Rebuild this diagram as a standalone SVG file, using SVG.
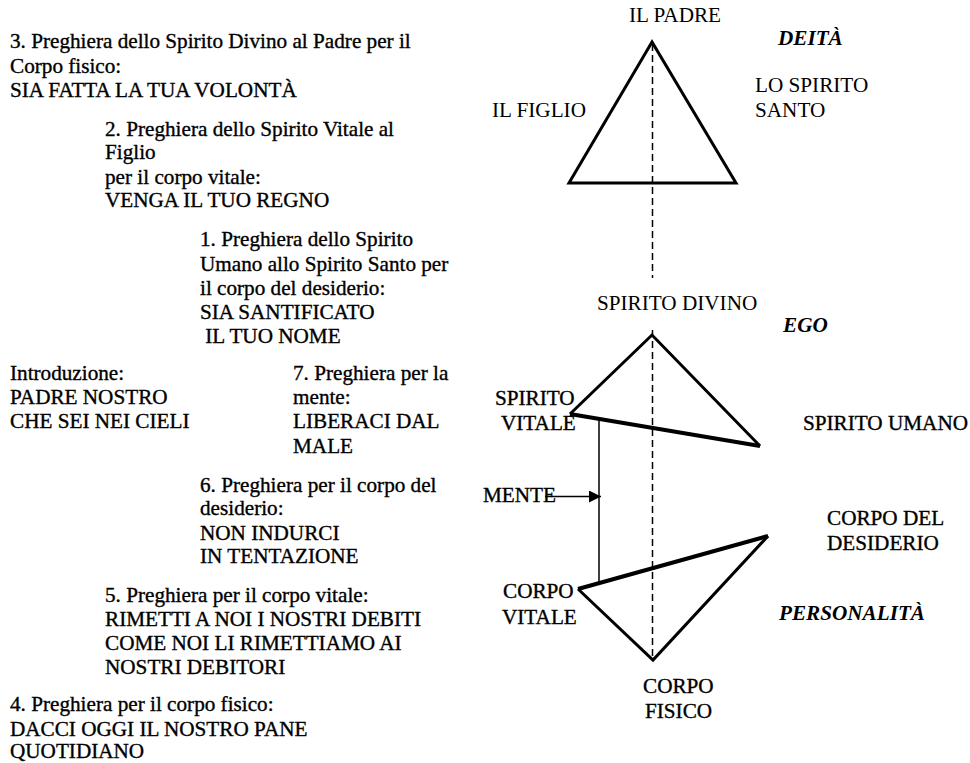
<svg xmlns="http://www.w3.org/2000/svg" width="970" height="763" viewBox="0 0 970 763" font-family="'Liberation Serif', 'Times New Roman', 'DejaVu Serif', serif" font-size="21.2">
<defs>
<style>
text{font-family:'Liberation Serif','Times New Roman','DejaVu Serif',serif;font-size:21.2px;fill:#000}
.h{stroke:#000;stroke-width:0.35}
.bi{font-weight:bold;font-style:italic}
.tri{fill:none;stroke:#000;stroke-width:3;stroke-linejoin:miter}
.edge{fill:none;stroke:#000;stroke-width:4}
.dash{stroke:#000;stroke-width:1.5;stroke-dasharray:7 4;fill:none}
.thin{stroke:#000;stroke-width:1.5;fill:none}
</style>
<marker id="arr" viewBox="0 0 12 12" refX="12" refY="6" markerWidth="12" markerHeight="12" markerUnits="userSpaceOnUse" orient="auto">
<path d="M0,0 L12,6 L0,12 Z" fill="#000"/>
</marker>
</defs>
<rect width="970" height="763" fill="#fff"/>

<g id="connectors">
<line class="dash" x1="652.5" y1="44" x2="652.5" y2="278"/>
<line class="dash" x1="652.5" y1="330" x2="652.5" y2="660"/>
<line class="thin" x1="599" y1="420" x2="599" y2="584"/>
<line class="thin" x1="545" y1="496.5" x2="601" y2="496.5" marker-end="url(#arr)"/>
</g>

<g id="deita">
<polygon class="tri" points="652,42 569,183 736,183"/>
</g>
<g id="ego">
<path class="tri" d="M570,414 L652,335 L760,446"/>
<line class="edge" x1="570" y1="414" x2="760" y2="446"/>
</g>
<g id="personalita">
<path class="tri" d="M578,589 L653,660 L768,536"/>
<line class="edge" x1="578" y1="589" x2="768" y2="536"/>
</g>

<g id="labels-right">
<text x="629" y="22">IL PADRE</text>
<text class="bi" x="778" y="45">DEITÀ</text>
<text x="492" y="117">IL FIGLIO</text>
<text x="755" y="92">LO SPIRITO</text>
<text x="755" y="117">SANTO</text>
<text x="597" y="310">SPIRITO DIVINO</text>
<text class="bi" x="783" y="332">EGO</text>
<text class="h" x="495" y="405">SPIRITO</text>
<text class="h" x="501" y="430">VITALE</text>
<text class="h" x="803" y="430">SPIRITO UMANO</text>
<text class="h" x="483" y="502">MENTE</text>
<text class="h" x="827" y="525">CORPO DEL</text>
<text class="h" x="827" y="550">DESIDERIO</text>
<text class="h" x="503" y="598">CORPO</text>
<text class="h" x="502" y="624">VITALE</text>
<text class="bi" x="779" y="620">PERSONALITÀ</text>
<text class="h" x="643" y="693">CORPO</text>
<text class="h" x="645" y="718">FISICO</text>
</g>

<g id="p3" class="h">
<text x="10" y="48">3. Preghiera dello Spirito Divino al Padre per il</text>
<text x="10" y="73">Corpo fisico:</text>
<text x="10" y="97">SIA FATTA LA TUA VOLONTÀ</text>
</g>
<g id="p2" class="h">
<text x="105" y="136">2. Preghiera dello Spirito Vitale al</text>
<text x="105" y="159">Figlio</text>
<text x="105" y="184">per il corpo vitale:</text>
<text x="105" y="207">VENGA IL TUO REGNO</text>
</g>
<g id="p1" class="h">
<text x="200" y="246">1. Preghiera dello Spirito</text>
<text x="200" y="271">Umano allo Spirito Santo per</text>
<text x="200" y="295">il corpo del desiderio:</text>
<text x="200" y="319">SIA SANTIFICATO</text>
<text x="200" y="343" xml:space="preserve"> IL TUO NOME</text>
</g>
<g id="intro" class="h">
<text x="10" y="380">Introduzione:</text>
<text x="10" y="404">PADRE NOSTRO</text>
<text x="10" y="428">CHE SEI NEI CIELI</text>
</g>
<g id="p7" class="h">
<text x="293" y="380">7. Preghiera per la</text>
<text x="293" y="404">mente:</text>
<text x="293" y="428">LIBERACI DAL</text>
<text x="293" y="453">MALE</text>
</g>
<g id="p6" class="h">
<text x="200" y="492">6. Preghiera per il corpo del</text>
<text x="200" y="515">desiderio:</text>
<text x="200" y="540">NON INDURCI</text>
<text x="200" y="563">IN TENTAZIONE</text>
</g>
<g id="p5" class="h">
<text x="105" y="602">5. Preghiera per il corpo vitale:</text>
<text x="105" y="626">RIMETTI A NOI I NOSTRI DEBITI</text>
<text x="105" y="650">COME NOI LI RIMETTIAMO AI</text>
<text x="105" y="674">NOSTRI DEBITORI</text>
</g>
<g id="p4" class="h">
<text x="10" y="711">4. Preghiera per il corpo fisico:</text>
<text x="10" y="736">DACCI OGGI IL NOSTRO PANE</text>
<text x="10" y="758">QUOTIDIANO</text>
</g>
</svg>
